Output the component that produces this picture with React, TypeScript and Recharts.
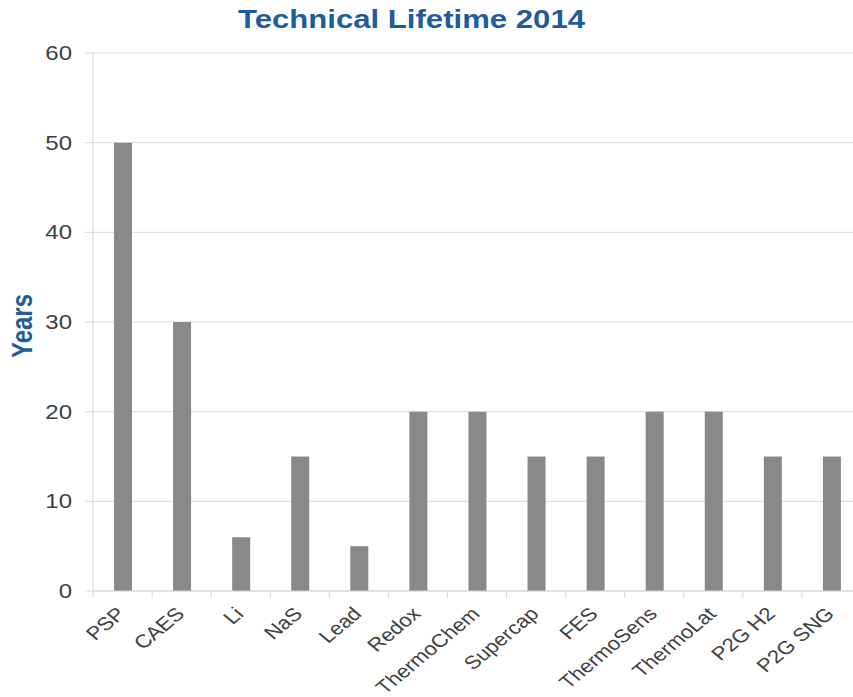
import React from 'react'
import { BarChart, Bar, XAxis, YAxis, CartesianGrid } from 'recharts'

const categories = [
  'PSP', 'CAES', 'Li', 'NaS', 'Lead', 'Redox', 'ThermoChem',
  'Supercap', 'FES', 'ThermoSens', 'ThermoLat', 'P2G H2', 'P2G SNG',
]
const lifetimeYears = [50, 30, 6, 15, 5, 20, 20, 15, 15, 20, 20, 15, 15]
const yTicks = [0, 10, 20, 30, 40, 50, 60]

const data = categories.map((name, i) => ({ name, years: lifetimeYears[i] }))

const gridColor = '#d9d9d9'
const textColor = '#404040'
const titleColor = '#1f5c99'
const font = '"Liberation Sans", Arial, sans-serif'
// the reference picture is stretched sideways, text included
const stretch = 1.2

function CategoryTick(props: any) {
  const { x, y, payload, index, width, visibleTicksCount } = props
  const step = width && visibleTicksCount ? width / visibleTicksCount : 59
  const top = y - 8
  return (
    <g>
      <line x1={x - step / 2} x2={x - step / 2} y1={top} y2={top + 7} stroke={gridColor} />
      {index === visibleTicksCount - 1 && (
        <line x1={x + step / 2} x2={x + step / 2} y1={top} y2={top + 7} stroke={gridColor} />
      )}
      <g transform={`translate(${x + 4}, ${y + 16}) scale(${stretch}, 1) rotate(-45)`}>
        <text x={0} y={0} textAnchor="end" fontSize={18.5} fontFamily={font} fill={textColor}>
          {payload.value}
        </text>
      </g>
    </g>
  )
}

function ValueTick(props: any) {
  const { y, payload } = props
  return (
    <g transform={`translate(72, ${y}) scale(${stretch}, 1)`}>
      <text x={0} y={0} dy={7} textAnchor="end" fontSize={20} fontFamily={font} fill={textColor}>
        {payload.value}
      </text>
    </g>
  )
}

export default function App() {
  return (
    <div style={{ position: 'absolute', left: 0, top: 0, width: 853, height: 697, overflow: 'hidden', background: '#fff' }}>
      <BarChart
        width={870}
        height={697}
        data={data}
        margin={{ top: 53, right: 9, bottom: 0, left: 0 }}
        barCategoryGap={0}
      >
        <CartesianGrid vertical={false} stroke={gridColor} />
        <XAxis
          dataKey="name"
          interval={0}
          axisLine={{ stroke: gridColor }}
          tickLine={false}
          tick={<CategoryTick />}
          height={106}
        />
        <YAxis
          domain={[0, 60]}
          ticks={yTicks}
          width={93}
          axisLine={{ stroke: gridColor }}
          tickLine={{ stroke: gridColor }}
          tickSize={8}
          tick={<ValueTick />}
        />
        <Bar dataKey="years" fill="#898989" barSize={18} isAnimationActive={false} />
      </BarChart>
      <svg width={853} height={697} style={{ position: 'absolute', left: 0, top: 0, pointerEvents: 'none' }}>
        <text
          x={238}
          y={28}
          textLength={347}
          lengthAdjust="spacingAndGlyphs"
          fontSize={25.5}
          fontWeight="bold"
          fontFamily={font}
          fill={titleColor}
        >
          Technical Lifetime 2014
        </text>
        <g transform={`translate(32, 326) scale(${stretch}, 1) rotate(-90)`}>
          <text x={0} y={0} textAnchor="middle" fontSize={24} fontWeight="bold" fontFamily={font} fill={titleColor}>
            Years
          </text>
        </g>
      </svg>
    </div>
  )
}
